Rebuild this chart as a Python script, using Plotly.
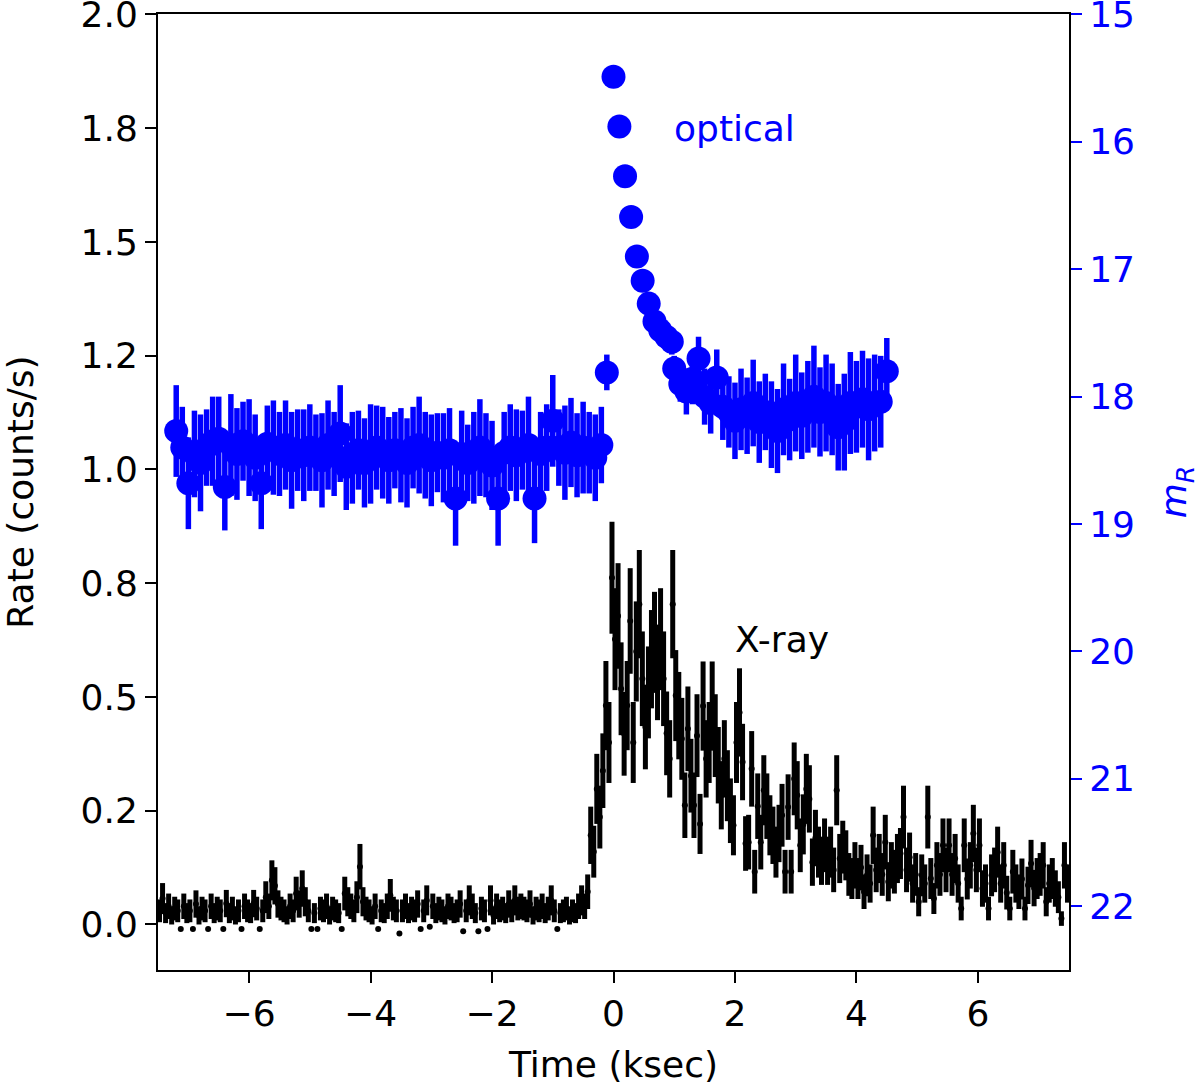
import numpy as np
import plotly.graph_objects as go

# ---------------- X-ray light curve (50 s bins, -7.5 .. 7.5 ksec) ----------------
xray_t = np.linspace(-7.475, 7.475, 300)
xray_rate = [
    0.03, 0.057, 0.025, 0.04, 0.02, 0.035, 0.03, -0.01, 0.04, 0.025, 0.03, -0.01, 0.045, 0.02, 0.035, 0.03, -0.01, 0.04, 0.025, 0.035,
    0.03, -0.01, 0.046, 0.025, 0.035, 0.02, 0.03, -0.01, 0.04, 0.03, 0.025, 0.046, 0.035, -0.01, 0.03, 0.06, 0.04, 0.097, 0.085, 0.045,
    0.035, 0.03, 0.02, 0.04, 0.03, 0.068, 0.045, 0.079, 0.05, 0.03, -0.01, 0.025, -0.01, 0.035, 0.03, 0.04, 0.02, 0.035, 0.03, 0.025,
    -0.01, 0.068, 0.05, 0.04, 0.03, 0.06, 0.127, 0.05, 0.035, 0.03, 0.02, 0.04, -0.01, 0.03, 0.025, 0.04, 0.064, 0.035, 0.03, -0.02,
    0.03, 0.04, 0.025, 0.035, 0.03, 0.045, -0.01, 0.03, 0.053, -0.005, 0.04, 0.025, 0.035, 0.03, 0.02, 0.04, 0.035, 0.025, 0.03, 0.045,
    -0.015, 0.03, 0.053, 0.04, 0.025, -0.015, 0.035, 0.03, -0.01, 0.053, 0.02, 0.04, 0.03, 0.035, 0.025, 0.045, 0.03, 0.053, 0.035, 0.04,
    0.035, 0.03, 0.045, 0.02, 0.035, 0.03, 0.04, 0.025, 0.035, 0.053, 0.03, -0.01, 0.025, 0.03, 0.035, 0.02, 0.03, 0.025, 0.04, 0.053,
    0.04, 0.072, 0.196, 0.16, 0.298, 0.236, 0.338, 0.481, 0.40, 0.762, 0.627, 0.678, 0.518, 0.419, 0.481, 0.667, 0.40, 0.60, 0.704, 0.54,
    0.434, 0.51, 0.583, 0.62, 0.554, 0.627, 0.54, 0.42, 0.364, 0.704, 0.503, 0.459, 0.408, 0.262, 0.43, 0.327, 0.262, 0.415, 0.221, 0.48,
    0.364, 0.40, 0.48, 0.415, 0.35, 0.284, 0.364, 0.305, 0.25, 0.218, 0.40, 0.466, 0.357, 0.178, 0.181, 0.342, 0.116, 0.26, 0.181, 0.295,
    0.26, 0.218, 0.196, 0.159, 0.20, 0.24, 0.116, 0.258, 0.116, 0.32, 0.284, 0.174, 0.22, 0.298, 0.276, 0.137, 0.19, 0.159, 0.14, 0.174,
    0.14, 0.159, 0.12, 0.295, 0.145, 0.17, 0.152, 0.11, 0.101, 0.13, 0.101, 0.125, 0.072, 0.108, 0.09, 0.196, 0.12, 0.145, 0.11, 0.181,
    0.094, 0.13, 0.116, 0.145, 0.156, 0.236, 0.12, 0.148, 0.09, 0.11, 0.05, 0.108, 0.09, 0.236, 0.101, 0.057, 0.13, 0.11, 0.174, 0.12,
    0.174, 0.11, 0.145, 0.09, 0.035, 0.174, 0.10, 0.13, 0.2, 0.12, 0.174, 0.079, 0.09, 0.035, 0.108, 0.12, 0.159, 0.09, 0.13, 0.07,
    0.035, 0.116, 0.09, 0.072, 0.10, 0.035, 0.086, 0.134, 0.08, 0.101, 0.11, 0.13, 0.05, 0.09, 0.101, 0.079, 0.06, 0.013, 0.13, 0.09,
]
xray_err = [
    0.025, 0.034, 0.022, 0.028, 0.02, 0.026, 0.025, 0, 0.028, 0.022, 0.025, 0, 0.03, 0.02, 0.026, 0.025, 0, 0.028, 0.022, 0.026,
    0.025, 0, 0.03, 0.022, 0.026, 0.02, 0.025, 0, 0.028, 0.025, 0.022, 0.03, 0.026, 0, 0.025, 0.035, 0.028, 0.044, 0.041, 0.03,
    0.026, 0.025, 0.02, 0.028, 0.025, 0.037, 0.03, 0.04, 0.032, 0.025, 0, 0.022, 0, 0.026, 0.025, 0.028, 0.02, 0.026, 0.025, 0.022,
    0, 0.037, 0.032, 0.028, 0.025, 0.035, 0.05, 0.032, 0.026, 0.025, 0.02, 0.028, 0, 0.025, 0.022, 0.028, 0.036, 0.026, 0.025, 0,
    0.025, 0.028, 0.022, 0.026, 0.025, 0.03, 0, 0.025, 0.033, 0, 0.028, 0.022, 0.026, 0.025, 0.02, 0.028, 0.026, 0.022, 0.025, 0.03,
    0, 0.025, 0.033, 0.028, 0.022, 0, 0.026, 0.025, 0, 0.033, 0.02, 0.028, 0.025, 0.026, 0.022, 0.03, 0.025, 0.033, 0.026, 0.028,
    0.026, 0.025, 0.03, 0.02, 0.026, 0.025, 0.028, 0.022, 0.026, 0.033, 0.025, 0, 0.022, 0.025, 0.026, 0.02, 0.025, 0.022, 0.028, 0.033,
    0.028, 0.038, 0.063, 0.057, 0.077, 0.069, 0.082, 0.098, 0.089, 0.123, 0.112, 0.116, 0.102, 0.092, 0.098, 0.116, 0.089, 0.11, 0.119, 0.104,
    0.093, 0.101, 0.108, 0.111, 0.105, 0.112, 0.104, 0.092, 0.085, 0.119, 0.1, 0.096, 0.09, 0.072, 0.093, 0.081, 0.072, 0.091, 0.066, 0.098,
    0.085, 0.089, 0.098, 0.091, 0.084, 0.075, 0.085, 0.078, 0.071, 0.066, 0.089, 0.097, 0.084, 0.06, 0.06, 0.083, 0.048, 0.072, 0.06, 0.077,
    0.072, 0.066, 0.063, 0.056, 0.063, 0.069, 0.048, 0.072, 0.048, 0.08, 0.075, 0.059, 0.066, 0.077, 0.074, 0.052, 0.062, 0.056, 0.053, 0.059,
    0.053, 0.056, 0.049, 0.077, 0.054, 0.058, 0.055, 0.047, 0.045, 0.051, 0.045, 0.05, 0.038, 0.046, 0.042, 0.063, 0.049, 0.054, 0.047, 0.06,
    0.043, 0.051, 0.048, 0.054, 0.056, 0.069, 0.049, 0.054, 0.042, 0.047, 0.032, 0.046, 0.042, 0.069, 0.045, 0.034, 0.051, 0.047, 0.059, 0.049,
    0.059, 0.047, 0.054, 0.042, 0.026, 0.059, 0.045, 0.051, 0.063, 0.049, 0.059, 0.04, 0.042, 0.026, 0.046, 0.049, 0.056, 0.042, 0.051, 0.037,
    0.026, 0.048, 0.042, 0.038, 0.045, 0.026, 0.041, 0.052, 0.04, 0.045, 0.047, 0.051, 0.032, 0.042, 0.045, 0.04, 0.035, 0.016, 0.051, 0.042,
]

# ---------------- Optical light curve (R magnitude) ----------------
opt_pre_t = np.linspace(-7.2, -0.2, 71)
opt_pre_mag = [
    18.27, 18.40, 18.68, 18.45, 18.52, 18.40, 18.35, 18.33, 18.71, 18.38,
    18.45, 18.35, 18.40, 18.48, 18.68, 18.37, 18.40, 18.45, 18.38, 18.50,
    18.42, 18.46, 18.40, 18.44, 18.50, 18.38, 18.45, 18.29, 18.55, 18.48,
    18.42, 18.52, 18.45, 18.40, 18.44, 18.50, 18.42, 18.46, 18.52, 18.40,
    18.38, 18.46, 18.50, 18.44, 18.48, 18.42, 18.80, 18.45, 18.52, 18.48,
    18.40, 18.46, 18.54, 18.80, 18.44, 18.40, 18.46, 18.42, 18.38, 18.80,
    18.45, 18.40, 18.19, 18.40, 18.44, 18.36, 18.46, 18.40, 18.44, 18.48,
    18.38,
]
opt_pre_err = [
    0.36, 0.32, 0.36, 0.34, 0.38, 0.30, 0.35, 0.33, 0.34, 0.40,
    0.36, 0.31, 0.38, 0.34, 0.36, 0.30, 0.37, 0.33, 0.35, 0.38,
    0.32, 0.36, 0.34, 0.30, 0.37, 0.35, 0.33, 0.38, 0.34, 0.36,
    0.31, 0.35, 0.39, 0.33, 0.36, 0.34, 0.30, 0.37, 0.35, 0.32,
    0.38, 0.34, 0.36, 0.31, 0.35, 0.33, 0.37, 0.34, 0.30, 0.36,
    0.38, 0.33, 0.35, 0.37, 0.32, 0.34, 0.36, 0.31, 0.38, 0.35,
    0.33, 0.34, 0.36, 0.30, 0.37, 0.35, 0.33, 0.36, 0.32, 0.34,
    0.30,
]
opt_flare_t = [-0.11, 0.0, 0.097, 0.19, 0.29, 0.385, 0.48, 0.58, 0.675, 0.77, 0.87, 0.96]
opt_flare_mag = [17.81, 15.49, 15.88, 16.27, 16.59, 16.90, 17.09, 17.27, 17.41, 17.48, 17.53, 17.57]
opt_flare_err = [0.14, 0.02, 0.02, 0.03, 0.03, 0.04, 0.05, 0.06, 0.07, 0.08, 0.09, 0.10]
opt_post_t = np.linspace(1.0, 4.5, 36)
opt_post_mag = [
    17.78, 17.90, 17.96, 17.86, 17.70, 18.00, 18.05, 17.85, 18.08, 18.12,
    18.19, 18.10, 18.15, 18.05, 18.20, 18.12, 18.22, 18.27, 18.10, 18.18,
    18.05, 18.15, 18.08, 18.00, 18.12, 18.05, 18.10, 18.24, 18.20, 18.05,
    18.08, 18.02, 18.10, 18.05, 18.04, 17.80,
]
opt_post_err = [
    0.10, 0.14, 0.18, 0.20, 0.17, 0.22, 0.24, 0.22, 0.26, 0.28,
    0.30, 0.32, 0.30, 0.34, 0.32, 0.30, 0.34, 0.33, 0.36, 0.32,
    0.38, 0.34, 0.36, 0.40, 0.35, 0.38, 0.36, 0.34, 0.38, 0.40,
    0.36, 0.38, 0.40, 0.38, 0.36, 0.26,
]

rate_ticks = [0.0, 0.25, 0.5, 0.75, 1.0, 1.25, 1.5, 1.75, 2.0]
rate_ticktext = ["0.0", "0.2", "0.5", "0.8", "1.0", "1.2", "1.5", "1.8", "2.0"]
mag_ticks = [15, 16, 17, 18, 19, 20, 21, 22]
time_ticks = [-6, -4, -2, 0, 2, 4, 6]

assert len(xray_rate) == len(xray_t) == len(xray_err)
assert len(opt_pre_mag) == len(opt_pre_t) == len(opt_pre_err)
assert len(opt_post_mag) == len(opt_post_t) == len(opt_post_err)

opt_t = list(opt_pre_t) + opt_flare_t + list(opt_post_t)
opt_mag = opt_pre_mag + opt_flare_mag + opt_post_mag
opt_err = opt_pre_err + opt_flare_err + opt_post_err

BLUE = "#0000ff"
FONT = "DejaVu Sans"
FS = 36

fig = go.Figure()
fig.add_trace(go.Scatter(
    x=xray_t, y=xray_rate, mode="markers", name="X-ray",
    marker=dict(color="black", size=6),
    error_y=dict(type="data", array=xray_err, color="black", thickness=5, width=0),
    yaxis="y", showlegend=False,
))
fig.add_trace(go.Scatter(
    x=opt_t, y=opt_mag, mode="markers", name="optical",
    marker=dict(color=BLUE, size=24),
    error_y=dict(type="data", array=opt_err, color=BLUE, thickness=5.5, width=0),
    yaxis="y2", showlegend=False,
))

fig.update_layout(
    width=1200, height=1085,
    margin=dict(l=158, r=131, t=14, b=115),
    plot_bgcolor="white", paper_bgcolor="white",
    font=dict(family=FONT, size=FS, color="black"),
    showlegend=False,
    xaxis=dict(
        range=[-7.5, 7.5], tickvals=time_ticks,
        ticks="outside", ticklen=11, tickwidth=2, tickcolor="black",
        showline=True, linewidth=2, linecolor="black", mirror=True,
        showgrid=False, zeroline=False, automargin=False,
        title=dict(text="Time (ksec)", standoff=22, font=dict(size=FS)),
        tickfont=dict(size=FS), ticklabeloverflow="allow",
    ),
    yaxis=dict(
        range=[-0.1, 2.0008], tickvals=rate_ticks, ticktext=rate_ticktext,
        ticks="outside", ticklen=11, tickwidth=2, tickcolor="black",
        showline=True, linewidth=2, linecolor="black",
        showgrid=False, zeroline=False, automargin=False,
        title=dict(text="Rate (counts/s)", standoff=43, font=dict(size=FS)),
        tickfont=dict(size=FS), ticklabeloverflow="allow",
    ),
    yaxis2=dict(
        overlaying="y", side="right",
        range=[22.5, 14.997], tickvals=mag_ticks,
        ticks="outside", ticklen=11, tickwidth=2, tickcolor=BLUE,
        showline=True, linewidth=2, linecolor="black",
        showgrid=False, zeroline=False, automargin=False,
        tickfont=dict(size=FS, color=BLUE), ticklabeloverflow="allow",
        title=dict(text="<i>m<sub>R</sub></i>", standoff=32, font=dict(size=FS, color=BLUE)),
    ),
    annotations=[
        dict(x=2.0, y=1.75, xref="x", yref="y", text="optical", showarrow=False,
             font=dict(family=FONT, size=FS, color=BLUE), xanchor="center", yanchor="middle"),
        dict(x=2.78, y=0.627, xref="x", yref="y", text="X-ray", showarrow=False,
             font=dict(family=FONT, size=FS, color="black"), xanchor="center", yanchor="middle"),
    ],
)

fig.write_html("out.html", config={"displayModeBar": False},
               post_script="document.body.style.margin='0';")
